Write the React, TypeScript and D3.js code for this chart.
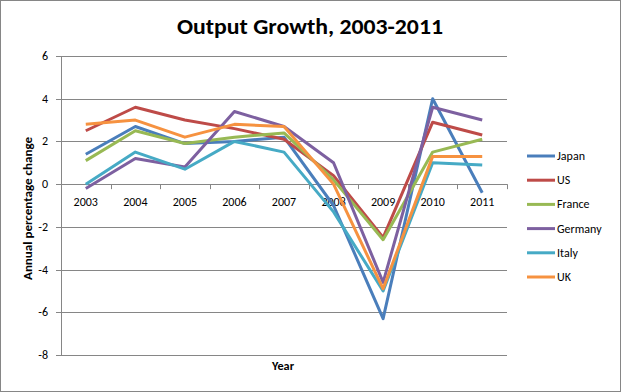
import React from "react";
import * as d3 from "d3";

const years = ["2003", "2004", "2005", "2006", "2007", "2008", "2009", "2010", "2011"];
const japan = [1.4, 2.7, 1.9, 2.0, 2.2, -1.0, -6.3, 4.0, -0.4];
const us = [2.5, 3.6, 3.0, 2.6, 2.1, 0.4, -2.5, 2.9, 2.3];
const france = [1.1, 2.5, 1.9, 2.2, 2.4, 0.2, -2.6, 1.5, 2.1];
const germany = [-0.2, 1.2, 0.8, 3.4, 2.7, 1.0, -4.6, 3.6, 3.0];
const italy = [0.0, 1.5, 0.7, 2.0, 1.5, -1.3, -5.0, 1.0, 0.9];
const uk = [2.8, 3.0, 2.2, 2.8, 2.7, 0.0, -4.9, 1.3, 1.3];
const seriesNames = ["Japan", "US", "France", "Germany", "Italy", "UK"];
const seriesValues = [japan, us, france, germany, italy, uk];
const seriesColors = ["#4A7EBB", "#BE4B48", "#98B954", "#7D60A0", "#46AAC5", "#F69240"];
const yTicks = [6, 4, 2, 0, -2, -4, -6, -8];

const W = 621, H = 392;
const left = 61, right = 507, top = 56, bottom = 355;
const FONT = "Carlito, Lato, 'Open Sans', sans-serif";

export default function App() {
  const x = d3.scaleBand().domain(years).range([left, right]).paddingInner(0).paddingOuter(0);
  const y = d3.scaleLinear().domain([-8, 6]).range([bottom, top]);
  const cx = (yr: string) => (x(yr) as number) + x.bandwidth() / 2;
  const line = d3.line<number>().x((_, i) => cx(years[i])).y((v) => y(v));
  const grid = "#868686";
  const boundaries = years.map((yr) => x(yr) as number).concat([right]);

  return (
    <svg width={W} height={H} style={{ position: "absolute", left: 0, top: 0 }} fontFamily={FONT}>
      <rect x={0} y={0} width={W} height={H} fill="#fff" />
      <rect x={0.5} y={0.5} width={W - 1} height={H - 1} fill="none" stroke="#868686" strokeWidth={1} />
      <text x={177} y={34} fontSize={23} fontWeight="bold" fill="#000" textLength={266} lengthAdjust="spacingAndGlyphs">
        Output Growth, 2003-2011
      </text>
      {yTicks.map((t) => (
        <g key={t}>
          {t !== 0 && (
            <line x1={left} x2={right} y1={Math.round(y(t)) + 0.5} y2={Math.round(y(t)) + 0.5} stroke={grid} strokeWidth={1} />
          )}
          <line x1={left - 5} x2={left} y1={Math.round(y(t)) + 0.5} y2={Math.round(y(t)) + 0.5} stroke={grid} strokeWidth={1} />
          <text x={left - 13} y={y(t) + 4} textAnchor="end" fontSize={12} fill="#000">
            {t}
          </text>
        </g>
      ))}
      <line x1={left + 0.5} x2={left + 0.5} y1={top} y2={bottom} stroke={grid} strokeWidth={1} />
      <line x1={left} x2={right} y1={Math.round(y(0)) + 0.5} y2={Math.round(y(0)) + 0.5} stroke={grid} strokeWidth={1} />
      {boundaries.map((b, i) => (
        <line key={i} x1={Math.round(b) + 0.5} x2={Math.round(b) + 0.5} y1={y(0)} y2={y(0) + 5} stroke={grid} strokeWidth={1} />
      ))}
      {years.map((yr) => (
        <text key={yr} x={cx(yr)} y={y(0) + 22} textAnchor="middle" fontSize={12} fill="#000">
          {yr}
        </text>
      ))}
      {seriesValues.map((vals, i) => (
        <path key={seriesNames[i]} d={line(vals) || ""} fill="none" stroke={seriesColors[i]} strokeWidth={3} strokeLinejoin="round" />
      ))}
      <text x={272} y={370} fontSize={12} fontWeight="bold" fill="#000" textLength={22} lengthAdjust="spacingAndGlyphs">
        Year
      </text>
      <text transform={`translate(32,280) rotate(-90)`} fontSize={12} fontWeight="bold" fill="#000" textLength={143} lengthAdjust="spacingAndGlyphs">
        Annual percentage change
      </text>
      {seriesNames.map((n, i) => {
        const ly = 156 + i * 24.2;
        return (
          <g key={n}>
            <line x1={527} x2={555} y1={ly} y2={ly} stroke={seriesColors[i]} strokeWidth={3} />
            <text x={557} y={ly + 4} fontSize={12} fill="#000">
              {n}
            </text>
          </g>
        );
      })}
    </svg>
  );
}
